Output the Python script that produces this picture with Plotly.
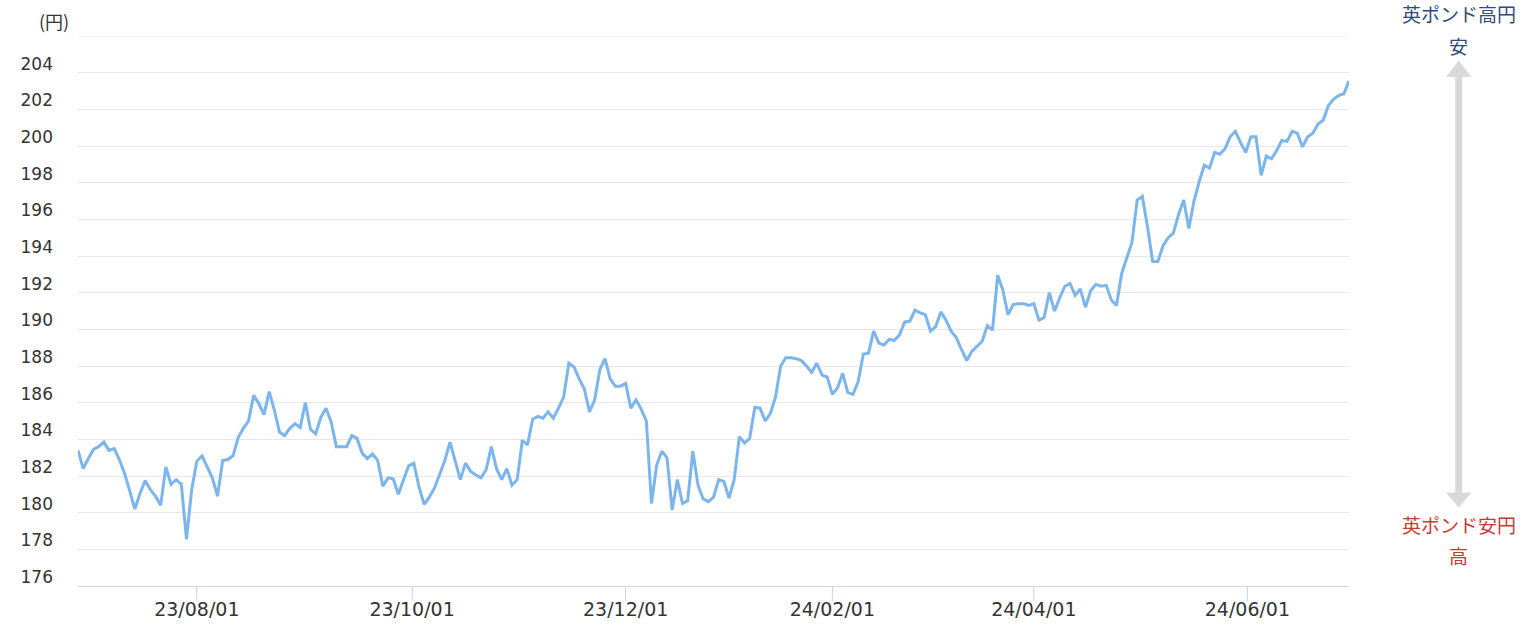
import numpy as np
import pandas as pd
import plotly.graph_objects as go

# Tokyo business days only (weekday market holidays removed)
START_DATE = "2023-06-28"
END_DATE = "2024-06-28"
JP_HOLIDAYS = [
    "2023-07-17", "2023-08-11", "2023-09-18", "2023-10-09", "2023-11-03",
    "2023-11-23", "2024-01-01", "2024-01-02", "2024-01-03", "2024-01-08",
    "2024-02-12", "2024-02-23", "2024-03-20", "2024-04-29", "2024-05-03",
    "2024-05-06",
]

# GBP/JPY close (yen), one value per business day
GBPJPY = [
    183.4, 182.4, 182.95, 183.45, 183.6, 183.85, 183.4, 183.5, 182.9, 182.15,
    181.2, 180.2, 181.05, 181.75, 181.25, 180.9, 180.4, 182.5, 181.55, 181.8,
    181.55, 178.55, 181.25, 182.8, 183.1, 182.5, 181.9, 180.9, 182.85, 182.9,
    183.1, 184.1, 184.6, 185.0, 186.4, 185.95, 185.35, 186.6, 185.6, 184.4,
    184.2, 184.6, 184.85, 184.65, 186.0, 184.55, 184.3, 185.2, 185.7, 184.95,
    183.6, 183.6, 183.6, 184.2, 184.05, 183.25, 182.95, 183.2, 182.85, 181.45,
    181.9, 181.85, 181.0, 181.8, 182.55, 182.7, 181.4, 180.45, 180.85, 181.35,
    182.05, 182.85, 183.85, 182.8, 181.8, 182.7, 182.25, 182.05, 181.9, 182.35,
    183.6, 182.4, 181.8, 182.4, 181.5, 181.8, 183.95, 183.7, 185.1, 185.25,
    185.15, 185.5, 185.15, 185.7, 186.3, 188.15, 187.95, 187.3, 186.75, 185.5,
    186.15, 187.8, 188.4, 187.3, 186.9, 186.9, 187.05, 185.7, 186.15, 185.65,
    185.0, 180.5, 182.6, 183.35, 183.0, 180.15, 181.8, 180.5, 180.65, 183.35,
    181.5, 180.75, 180.6, 180.85, 181.8, 181.7, 180.8, 181.8, 184.15, 183.8,
    184.05, 185.75, 185.7, 185.0, 185.4, 186.3, 188.0, 188.45, 188.45, 188.4,
    188.3, 188.0, 187.65, 188.15, 187.5, 187.4, 186.45, 186.8, 187.6, 186.55,
    186.45, 187.15, 188.65, 188.7, 189.9, 189.25, 189.15, 189.45, 189.4, 189.7,
    190.4, 190.45, 191.05, 190.9, 190.8, 189.9, 190.15, 190.95, 190.5, 189.9,
    189.55, 188.9, 188.3, 188.8, 189.1, 189.35, 190.2, 189.95, 192.95, 192.15,
    190.8, 191.35, 191.4, 191.4, 191.3, 191.4, 190.5, 190.65, 192.0, 191.0,
    191.7, 192.35, 192.5, 191.85, 192.2, 191.2, 192.1, 192.45, 192.35, 192.4,
    191.6, 191.3, 193.05, 193.95, 194.75, 197.05, 197.25, 195.6, 193.7, 193.7,
    194.55, 195.0, 195.25, 196.25, 197.05, 195.5, 197.0, 198.05, 198.95, 198.8,
    199.65, 199.55, 199.85, 200.5, 200.8, 200.2, 199.65, 200.5, 200.5, 198.4,
    199.45, 199.3, 199.75, 200.3, 200.25, 200.8, 200.7, 199.95, 200.5, 200.7,
    201.2, 201.4, 202.2, 202.55, 202.75, 202.85, 203.55,
]

TICK_DATES = ["2023-08-01", "2023-10-01", "2023-12-01", "2024-02-01", "2024-04-01", "2024-06-01"]
Y_TICKS = [176, 178, 180, 182, 184, 186, 188, 190, 192, 194, 196, 198, 200, 202, 204, 206]

dates = pd.bdate_range(START_DATE, END_DATE, freq="C", holidays=JP_HOLIDAYS)
assert len(dates) == len(GBPJPY), (len(dates), len(GBPJPY))
cats = list(dates.strftime("%Y-%m-%d"))

# ordinal axis: ticks that fall on a weekend sit between the neighbouring days
idx = np.arange(len(dates))
tick_ts = pd.to_datetime(TICK_DATES)
tick_pos = np.interp(tick_ts.asi8, dates.asi8, idx)
tick_txt = [d.strftime("%y/%m/%d") for d in tick_ts]

W, H = 1536, 632
M = dict(l=78, r=187, t=36, b=46)
AXIS_COL = "#ccd6eb"
GRID_COL = "#e6e6e6"


def px_x(x):
    return (x - M["l"]) / (W - M["l"] - M["r"])


def px_y(y):
    return (H - M["b"] - y) / (H - M["t"] - M["b"])


fig = go.Figure()
fig.add_trace(go.Scatter(
    x=cats, y=GBPJPY, mode="lines",
    line=dict(color="#7cb5ec", width=3),
    hovertemplate="%{x}<br>%{y:.2f}円<extra></extra>",
))

# longer tick marks than plotly would leave room for under the labels
shapes = [
    dict(type="line", xref="x", yref="paper", x0=p, x1=p, y0=0, y1=px_y(601),
         line=dict(color=AXIS_COL, width=1))
    for p in tick_pos
]
# top grid line sits on the plot edge, make sure it is drawn
shapes.append(dict(type="line", xref="paper", yref="y", x0=0, x1=1,
                   y0=Y_TICKS[-1], y1=Y_TICKS[-1], layer="below",
                   line=dict(color=GRID_COL, width=1)))

# grey double-headed arrow on the right
ARROW = "#d9d9d9"
cx = 1458.7
shapes += [
    dict(type="rect", xref="paper", yref="paper",
         x0=px_x(cx - 3.5), x1=px_x(cx + 3.5), y0=px_y(493), y1=px_y(76),
         fillcolor=ARROW, line=dict(width=0)),
    dict(type="path", xref="paper", yref="paper",
         path=f"M {px_x(cx)},{px_y(60.5)} L {px_x(cx - 12.7)},{px_y(77)} L {px_x(cx + 12.7)},{px_y(77)} Z",
         fillcolor=ARROW, line=dict(width=0)),
    dict(type="path", xref="paper", yref="paper",
         path=f"M {px_x(cx)},{px_y(507.5)} L {px_x(cx - 12.7)},{px_y(492.5)} L {px_x(cx + 12.7)},{px_y(492.5)} Z",
         fillcolor=ARROW, line=dict(width=0)),
]

JP_FONT = "Noto Sans CJK JP"
BLUE = "#2e4b7a"
RED = "#c63a32"
notes = [
    ("英ポンド高円", cx, 13.5, BLUE),
    ("安", cx, 45, BLUE),
    ("英ポンド安円", cx, 524, RED),
    ("高", cx, 555.5, RED),
]
annotations = [
    dict(text=t, x=px_x(x), y=px_y(y), xref="paper", yref="paper",
         xanchor="center", yanchor="middle", showarrow=False,
         font=dict(family=JP_FONT, size=19, color=c))
    for t, x, y, c in notes
]
annotations.append(dict(
    text="(円)", x=px_x(53.5), y=px_y(21), xref="paper", yref="paper",
    xanchor="center", yanchor="middle", showarrow=False,
    font=dict(family=JP_FONT, size=18, color="#333333"),
))

fig.update_layout(
    width=W, height=H,
    margin=M,
    paper_bgcolor="white", plot_bgcolor="white",
    showlegend=False,
    shapes=shapes,
    annotations=annotations,
    xaxis=dict(
        type="category", range=[0, len(cats) - 1], automargin=False,
        tickmode="array", tickvals=list(tick_pos), ticktext=tick_txt,
        showgrid=False, zeroline=False,
        showline=True, linecolor=AXIS_COL, linewidth=1,
        ticks="outside", ticklen=6, tickcolor=AXIS_COL, tickwidth=1,
        tickfont=dict(family="DejaVu Sans", size=19, color="#333333"),
    ),
    yaxis=dict(
        range=[176, 206], automargin=False,
        tickmode="array", tickvals=Y_TICKS,
        ticktext=[str(v) if v < 206 else "" for v in Y_TICKS],
        showgrid=True, gridcolor=GRID_COL, gridwidth=1,
        zeroline=False, showline=False, ticks="",
        ticklabelposition="outside top", ticklabelstandoff=24,
        ticklabelshift=3,
        tickfont=dict(family="DejaVu Sans", size=17, color="#333333"),
    ),
)

# the page body has a default 8px margin; drop it so the figure sits at 0,0
fig.write_html("out.html", config={"displayModeBar": False},
               post_script="document.body.style.margin='0';")
